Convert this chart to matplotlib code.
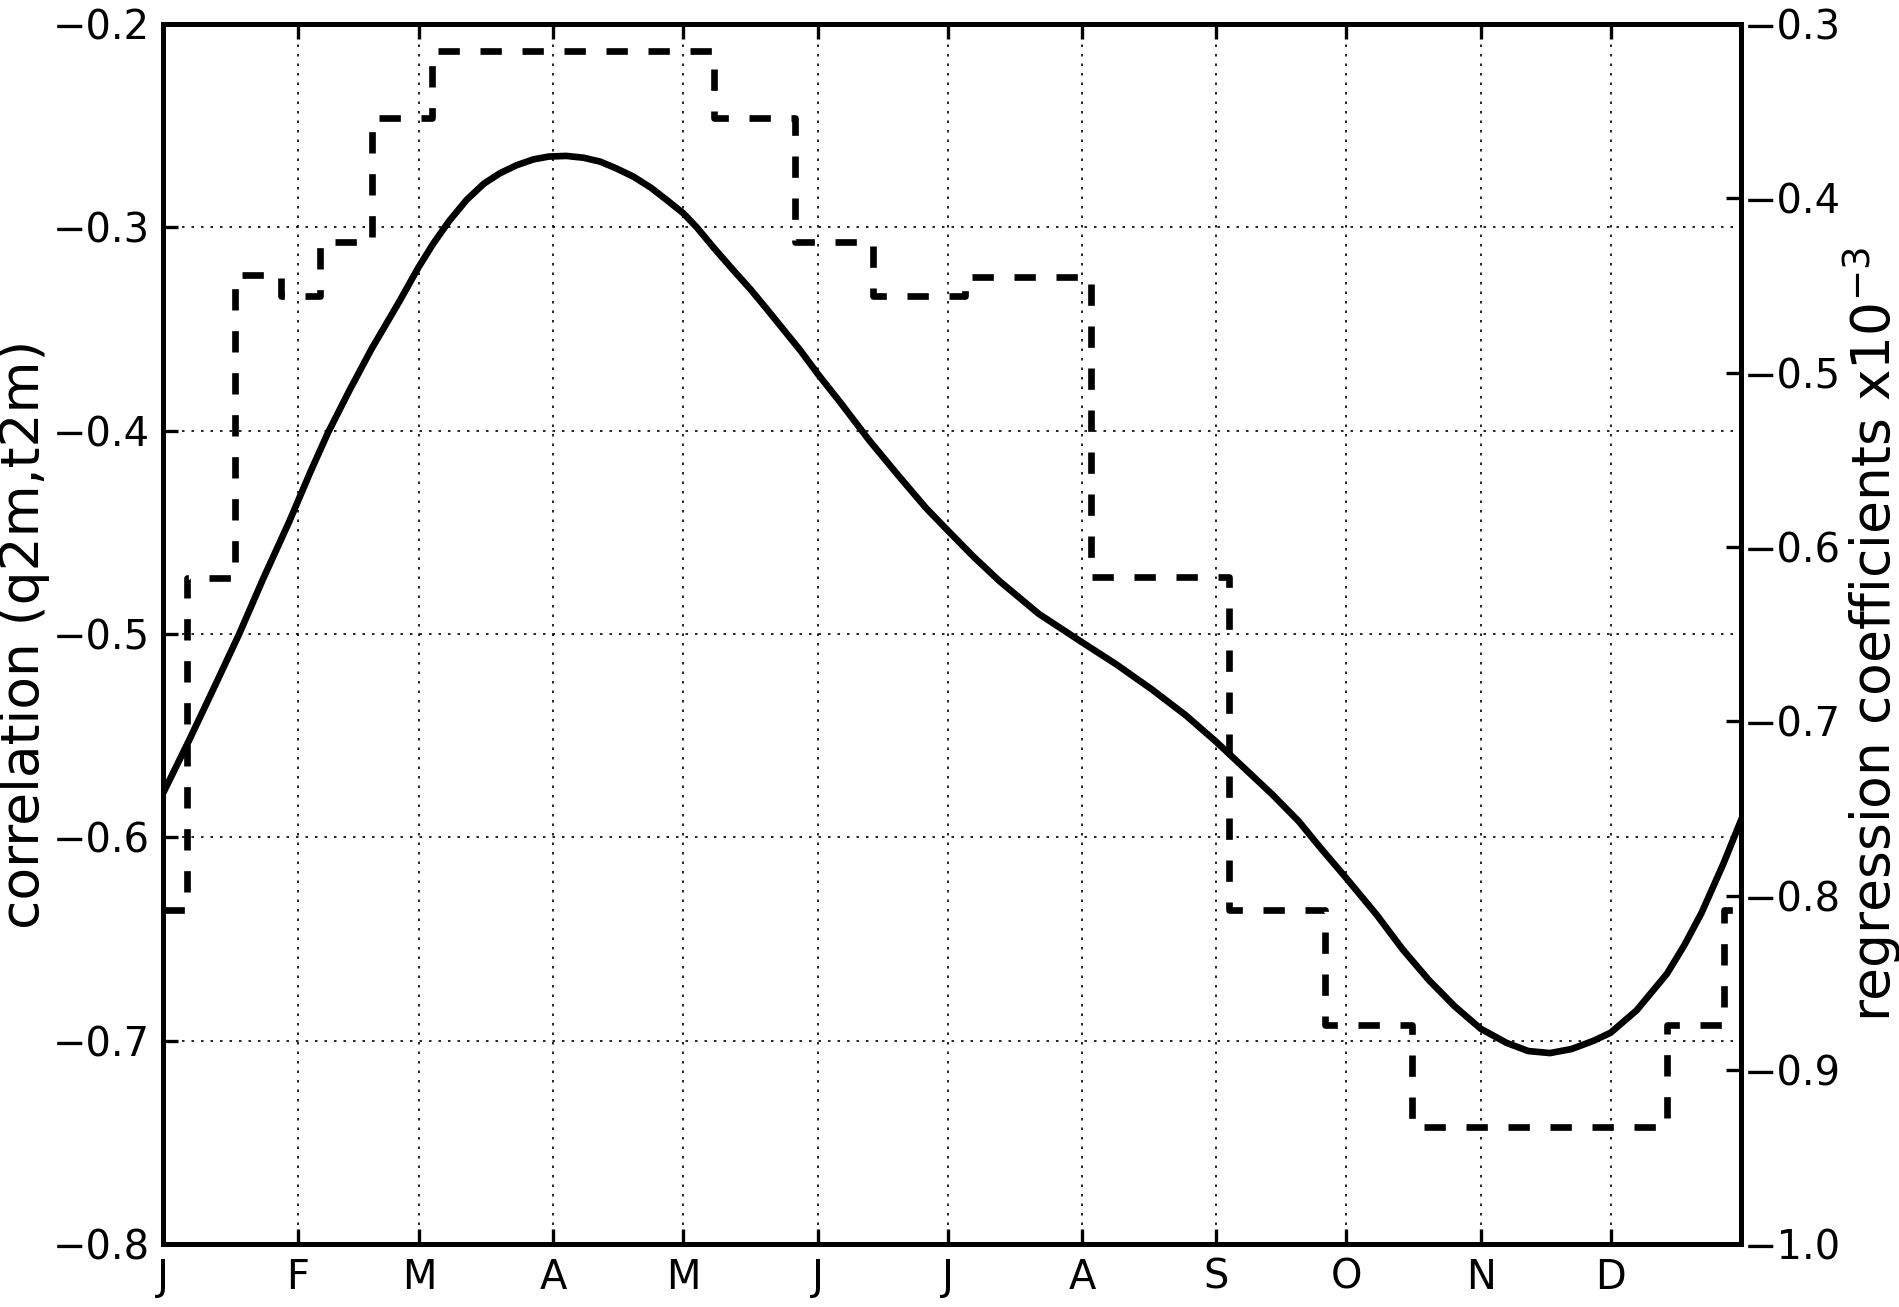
"""
Seasonal cycle of the q2m/t2m correlation and the regression coefficients.
"""

import matplotlib
matplotlib.use("Agg")
import matplotlib.pyplot as plt

# day of year (0..364) and correlation
corr_days = [0, 6, 12, 17.5, 23, 29, 34, 38, 43, 48, 54.6, 58.8, 62.3, 66,
             70, 74, 77.7, 81.5, 85.4, 89, 93, 97, 100.8, 104.5, 108.5, 112.5,
             116.2, 120, 123.1, 127, 131.5, 135.5, 139.2, 143, 147, 151, 156.2,
             163, 170, 176, 181, 187, 193, 202, 212, 220, 228, 236, 243, 250,
             256, 262, 267, 273, 280, 286, 292, 298, 304, 310, 315, 320, 325,
             330, 334, 340, 347, 351, 355, 360, 364]
corr_vals = [-0.578, -0.552, -0.525, -0.500, -0.473, -0.445, -0.420, -0.401,
             -0.380, -0.360, -0.336, -0.320, -0.308, -0.2968, -0.2865, -0.2785,
             -0.2734, -0.2695, -0.2666, -0.2652, -0.2649, -0.2658, -0.2677,
             -0.2710, -0.2751, -0.2805, -0.2866, -0.2931, -0.300, -0.310,
             -0.321, -0.3305, -0.340, -0.350, -0.3605, -0.372, -0.386, -0.405,
             -0.423, -0.438, -0.449, -0.462, -0.474, -0.490, -0.504, -0.515,
             -0.527, -0.540, -0.553, -0.567, -0.579, -0.592, -0.605, -0.620,
             -0.638, -0.655, -0.670, -0.683, -0.694, -0.701, -0.705, -0.706,
             -0.704, -0.700, -0.696, -0.685, -0.667, -0.653, -0.637, -0.613,
             -0.592]

# regression coefficients (x1e-3), piecewise constant between these days
reg_edges = [0, 5.4, 16.5, 27.1, 36.2, 48.1, 61.9, 127.1, 145.8, 163.8, 185.0,
             214.2, 246.0, 268.1, 288.1, 346.9, 360.1, 364]
reg_vals = [-0.808, -0.618, -0.444, -0.456, -0.425, -0.354, -0.3155, -0.354,
            -0.425, -0.456, -0.445, -0.617, -0.808, -0.874, -0.933, -0.874,
            -0.808]

month_days = [0, 31, 59, 90, 120, 151, 181, 212, 243, 273, 304, 334]
month_labels = ["J", "F", "M", "A", "M", "J", "J", "A", "S", "O", "N", "D"]

corr_ticks = [-0.8, -0.7, -0.6, -0.5, -0.4, -0.3, -0.2]
reg_ticks = [-1.0, -0.9, -0.8, -0.7, -0.6, -0.5, -0.4, -0.3]

DPI = 240
fig = plt.figure(figsize=(1899 / DPI, 1307 / DPI), dpi=DPI)
ax1 = fig.add_axes([0.0860, 0.0480, 0.8306, 0.9337])

ax1.plot(corr_days, corr_vals, color="black", linewidth=2.0,
         solid_joinstyle="round")
ax1.set_xlim(0, 364)
ax1.set_ylim(-0.8, -0.2)
ax1.set_xticks(month_days)
ax1.set_xticklabels(month_labels)
ax1.set_yticks(corr_ticks)
ax1.set_ylabel("correlation (q2m,t2m)", fontsize=16, labelpad=1)
ax1.grid(True, color="black", linewidth=0.5, linestyle=(0, (1.5, 4.2)))
ax1.tick_params(axis="both", direction="in", length=4.5, width=1.0,
                labelsize=12, pad=4, top=True, right=False)

ax2 = ax1.twinx()
ax2.step(reg_edges, reg_vals + [reg_vals[-1]], where="post", color="black",
         linewidth=2.0, linestyle=(0, (3.2, 3.1)))
ax2.set_xlim(0, 364)
ax2.set_ylim(-1.0, -0.3)
ax2.set_yticks(reg_ticks)
ax2.set_ylabel("regression coefficients x10$^{-3}$", fontsize=16, labelpad=0)
ax2.tick_params(axis="y", direction="in", length=4.5, width=1.0,
                labelsize=12, pad=1)

for ax in (ax1, ax2):
    for spine in ax.spines.values():
        spine.set_linewidth(1.5)

fig.savefig("out.png", dpi=DPI)
